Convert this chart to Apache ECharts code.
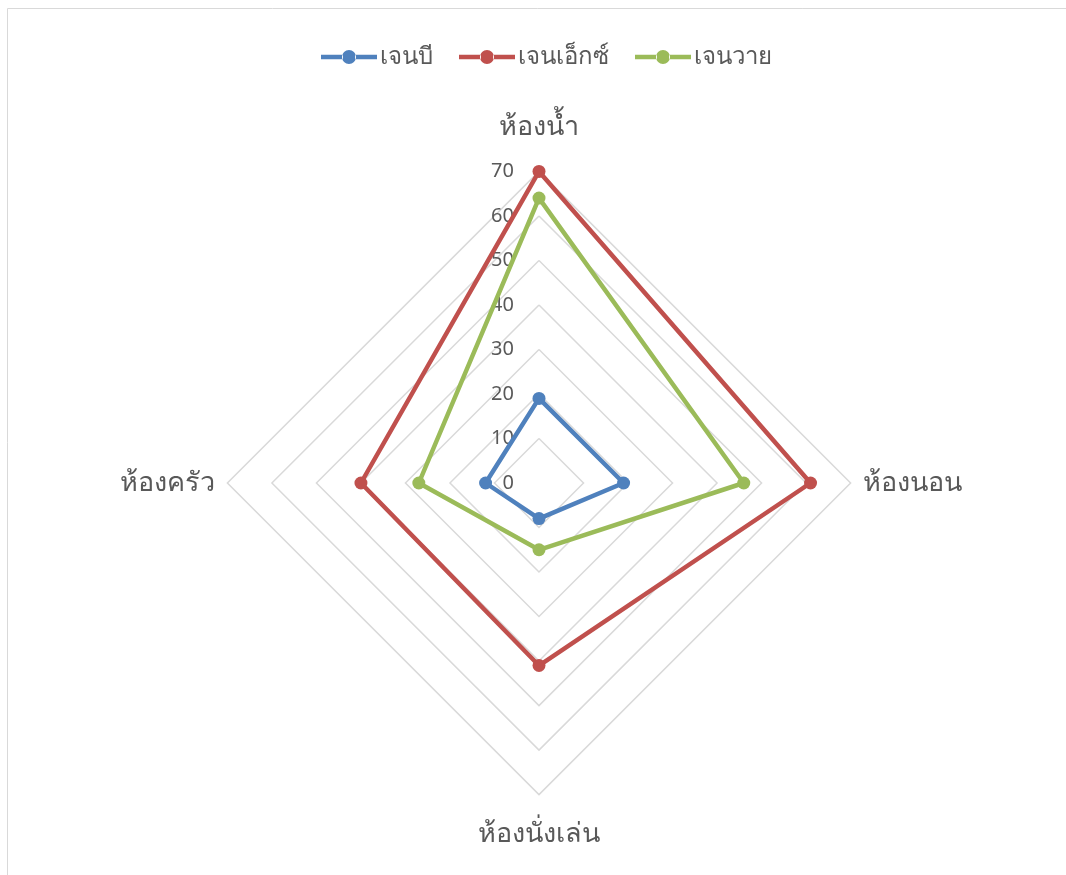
<!DOCTYPE html>
<html><head><meta charset="utf-8">
<script src="https://cdn.jsdelivr.net/npm/echarts@6/dist/echarts.min.js"></script>
<style>html,body{margin:0;padding:0;background:#fff}#c{width:1066px;height:875px}</style>
</head><body><div id="c"></div>
<script>
// Categories listed clockwise from the top, as in the source chart
const indicators = ['ห้องน้ำ', 'ห้องนอน', 'ห้องนั่งเล่น', 'ห้องครัว'];
const seriesNames = ['เจนบี', 'เจนเอ็กซ์', 'เจนวาย'];
const genB = [19, 19, 8, 12];
const genX = [70, 61, 41, 40];
const genY = [64, 46, 15, 27];
const colors = ['#4f81bd', '#c0504d', '#9bbb59'];
const axisMax = 70;

// ECharts radar runs counter-clockwise; reorder so the layout is clockwise
const order = [0, 3, 2, 1];
const reorder = arr => order.map(i => arr[i]);

const font = '"Noto Sans", "DejaVu Sans", sans-serif';
const chart = echarts.init(document.getElementById('c'));
const values = [genB, genX, genY];
const legendIcon = 'path://M0,4.8h22v4.4h-22z M34,4.8h22v4.4h-22z M21,7a7,7 0 1,0 14,0a7,7 0 1,0 -14,0z';
chart.setOption({
  animation: false,
  textStyle: { fontFamily: font },
  graphic: [{ type: 'rect', shape: { x: 7.5, y: 8.5, width: 1200, height: 1000 }, style: { fill: null, stroke: '#d9d9d9', lineWidth: 1 }, silent: true }],
  legend: {
    top: 40, left: 316, itemWidth: 56, itemHeight: 14, itemGap: 26,
    textStyle: { color: '#595959', fontSize: 24, fontFamily: font, padding: [0, 0, 0, -2] },
    data: seriesNames.map(n => ({ name: n, icon: legendIcon }))
  },
  radar: {
    center: [539, 483], radius: 311.6, shape: 'polygon', splitNumber: 7,
    startAngle: 90,
    axisName: {
      color: '#595959', fontSize: 27, fontFamily: font,
      formatter: function (n) {
        if (n === indicators[0]) return '{t|' + n + '}';
        if (n === indicators[2]) return '{b|' + n + '}';
        return n;
      },
      rich: {
        t: { fontSize: 27, color: '#595959', fontFamily: font, padding: [0, 0, 19, 0] },
        b: { fontSize: 27, color: '#595959', fontFamily: font, padding: [14, 0, 0, 0] }
      }
    },
    nameGap: 12,
    splitLine: { lineStyle: { color: '#d9d9d9', width: 1.5 } },
    splitArea: { show: false },
    axisLine: { show: false },
    axisTick: { show: false },
    axisLabel: { show: false },
    indicator: reorder(indicators).map((n, i) => i === 0
      ? { name: n, max: axisMax, min: 0, axisLabel: { show: true, color: '#595959', fontSize: 20, margin: 25, fontFamily: font } }
      : { name: n, max: axisMax, min: 0 })
  },
  series: [{
    type: 'radar',
    symbol: 'circle', symbolSize: 13,
    data: seriesNames.map((s, i) => ({
      name: s, value: reorder(values[i]),
      lineStyle: { color: colors[i], width: 4.5 },
      itemStyle: { color: colors[i] }
    }))
  }]
});
</script></body></html>
